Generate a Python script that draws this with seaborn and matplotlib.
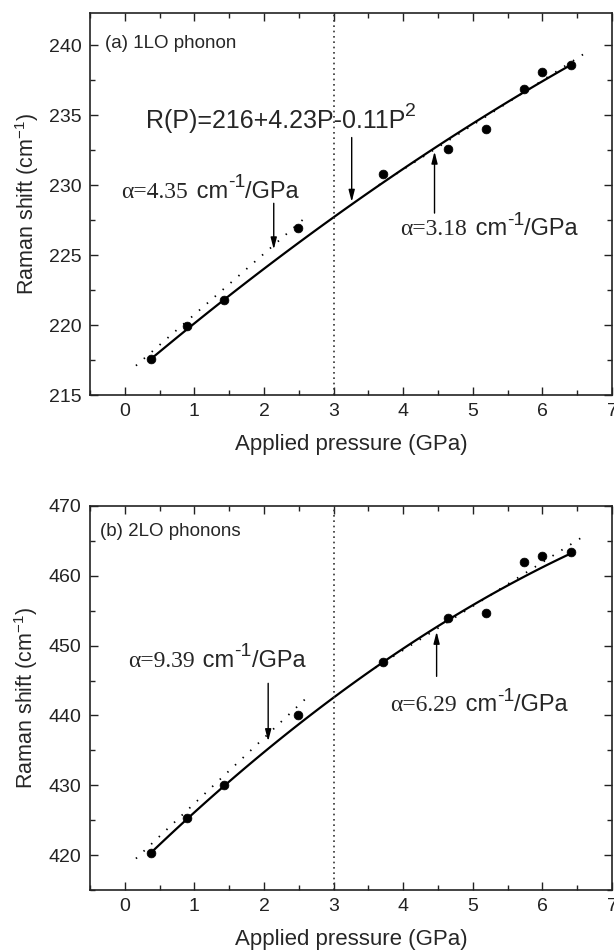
import numpy as np
import pandas as pd
import seaborn as sns
import matplotlib.pyplot as plt
from matplotlib.ticker import MultipleLocator

# measured points (pressure in GPa, Raman shift in cm-1)
pressure = [0.37, 0.90, 1.42, 2.49, 3.71, 4.65, 5.19, 5.74, 6.00, 6.41]
shift_1lo = [217.6, 219.9, 221.8, 226.9, 230.8, 232.6, 234.0, 236.9, 238.1, 238.6]
shift_2lo = [420.3, 425.3, 430.1, 440.1, 447.7, 453.9, 454.7, 462.0, 462.9, 463.4]

# quadratic fits (a, b, c) -> a + b*P + c*P^2
fit_1lo = [216.0, 4.23, -0.11]
fit_2lo = [416.7, 9.82, -0.40]

# linear fits below / above 3 GPa: (intercept, slope, P start, P end)
lin_1lo = [(216.4, 4.35, 0.16, 2.65), (218.4, 3.18, 3.65, 6.65)]
lin_2lo = [(418.0, 9.39, 0.16, 2.65), (424.2, 6.29, 3.60, 6.62)]

sns.set_style("ticks")
plt.rcParams['font.family'] = ['Liberation Sans', 'DejaVu Sans']
plt.rcParams['mathtext.fontset'] = 'custom'
plt.rcParams['mathtext.rm'] = 'Liberation Sans'
plt.rcParams['mathtext.default'] = 'regular'

fig = plt.figure(figsize=(6.14, 9.52), dpi=100)
ax1 = fig.add_axes([90 / 614, 1 - 395 / 952, 522 / 614, 382 / 952])
ax2 = fig.add_axes([90 / 614, 1 - 890 / 952, 522 / 614, 384 / 952])

panels = [
    (ax1, shift_1lo, fit_1lo, lin_1lo, (215, 242.3), 5, "(a) 1LO phonon", -0.29, 240.1),
    (ax2, shift_2lo, fit_2lo, lin_2lo, (415, 470), 10, "(b) 2LO phonons", -0.35, 466.3),
]

for ax, shift, fit, lins, ylim, major, title, tx, ty in panels:
    p = np.linspace(pressure[0], pressure[-1], 100)
    curve = pd.DataFrame({'P': p, 'R': fit[0] + fit[1] * p + fit[2] * p ** 2})
    sns.lineplot(data=curve, x='P', y='R', ax=ax, color='black', lw=1.6)
    for a, s, p0, p1 in lins:
        seg = pd.DataFrame({'P': [p0, p1], 'R': [a + s * p0, a + s * p1]})
        sns.lineplot(data=seg, x='P', y='R', ax=ax, color='black', lw=1.3,
                     linestyle=(0, (0.8, 5)))
    pts = pd.DataFrame({'P': pressure, 'R': shift})
    sns.scatterplot(data=pts, x='P', y='R', ax=ax, color='black', s=40,
                    edgecolor='black', zorder=5)
    ax.axvline(3, color='#333333', lw=1.2, linestyle=(0, (1, 2.2)))

    ax.set_xlim(-0.5, 7)
    ax.set_ylim(*ylim)
    ax.xaxis.set_major_locator(MultipleLocator(1))
    ax.xaxis.set_minor_locator(MultipleLocator(0.5))
    ax.yaxis.set_major_locator(MultipleLocator(major))
    ax.yaxis.set_minor_locator(MultipleLocator(major / 2))
    ax.tick_params(which='both', direction='in', top=True, right=True,
                   labelsize=14, width=1.0, pad=6, colors='#222222')
    ax.tick_params(which='major', length=6)
    ax.tick_params(which='minor', length=3.5)
    for sp in ax.spines.values():
        sp.set_linewidth(1.2)
        sp.set_color('#222222')
    ax.set_xlabel('Applied pressure (GPa)', fontsize=16, labelpad=10)
    ax.set_ylabel('Raman shift (cm$^{-1}$)', fontsize=15.5, labelpad=6)
    ax.text(tx, ty, title, fontsize=13.5, va='center', ha='left')

serif = ['Liberation Serif', 'DejaVu Serif']
arrow = dict(arrowstyle='-|>,head_length=0.7,head_width=0.18', color='black',
             lw=1.0, shrinkA=0, shrinkB=0)


def sup_text(ax, x, y, base, sup, tail, size, supsize, ha='left'):
    # base text, a big raised superscript, then the rest on the base line
    t0 = ax.text(x, y, base, fontsize=size, ha=ha, va='baseline')
    t1 = ax.annotate(sup, xy=(1.0, 0.52), xycoords=t0, fontsize=supsize,
                     ha='left', va='bottom')
    if tail:
        ax.annotate(tail, xy=(1.0, 0.0), xycoords=(t1, t0), fontsize=size,
                    ha='left', va='bottom')


def alpha_label(ax, x, y, value):
    ax.text(x, y, '\u03b1=' + value, fontsize=17, family=serif, ha='right', va='baseline')
    sup_text(ax, x + 0.03, y, ' cm', '-1', '/GPa', 17, 14)


# panel (a)
sup_text(ax1, 0.30, 234.1, 'R(P)=216+4.23P-0.11P', '2', '', 18, 14)
ax1.annotate('', xy=(3.26, 228.8), xytext=(3.26, 233.4), arrowprops=arrow)
alpha_label(ax1, 0.90, 229.1, '4.35')
ax1.annotate('', xy=(2.14, 225.4), xytext=(2.14, 228.7), arrowprops=arrow)
alpha_label(ax1, 4.91, 226.4, '3.18')
ax1.annotate('', xy=(4.45, 232.4), xytext=(4.45, 228.0), arrowprops=arrow)

# panel (b)
alpha_label(ax2, 1.00, 447.0, '9.39')
ax2.annotate('', xy=(2.06, 436.3), xytext=(2.06, 444.6), arrowprops=arrow)
alpha_label(ax2, 4.77, 440.6, '6.29')
ax2.annotate('', xy=(4.48, 452.0), xytext=(4.48, 445.6), arrowprops=arrow)

fig.savefig('out.png', dpi=100)
